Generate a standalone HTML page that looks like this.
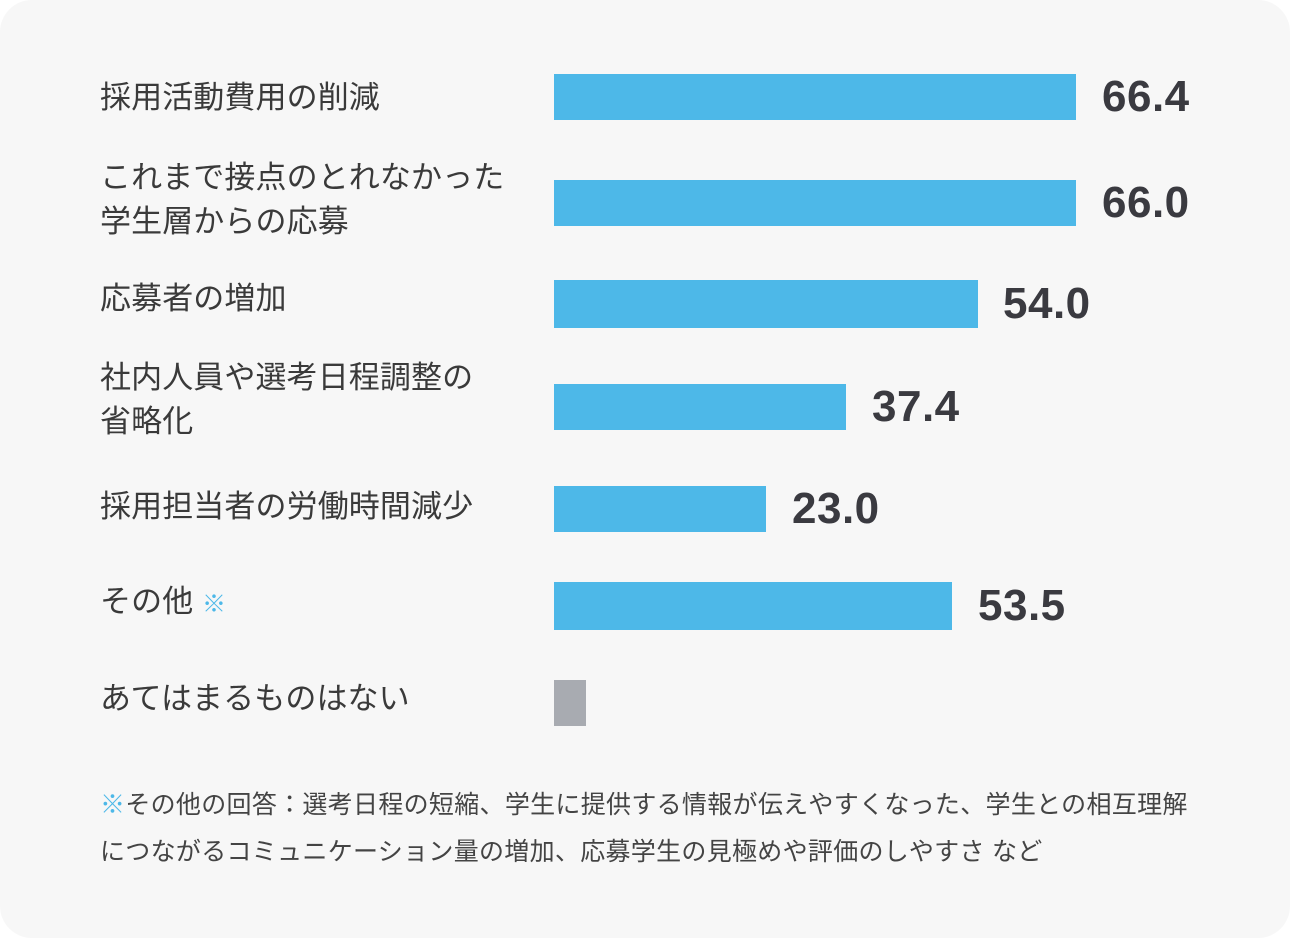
<!DOCTYPE html>
<html><head><meta charset="utf-8"><style>
html,body{margin:0;padding:0;background:#fff;}
body{width:1290px;height:938px;position:relative;overflow:hidden;font-family:"Liberation Sans","Noto Sans CJK JP",sans-serif;}
.card{position:absolute;left:0;top:0;width:1290px;height:938px;background:#f7f7f7;border-radius:32px;}
.lab{position:absolute;left:100px;font-size:31px;color:#3a3a3a;line-height:44px;white-space:nowrap;letter-spacing:0.1px;}
.bar{position:absolute;left:554px;background:#4db8e8;height:46px;}
.val{position:absolute;font-size:44px;font-weight:bold;color:#3a3a40;line-height:46px;letter-spacing:0.5px;}
.note{position:absolute;left:100px;font-size:25px;color:#444;line-height:48px;white-space:nowrap;letter-spacing:0.3px;}
.k{color:#4db8e8;}
</style></head><body><div class="card">
<div class="lab" style="top:76px">採用活動費用の削減</div>
<div class="bar" style="top:74px;width:522px"></div><div class="val" style="left:1102px;top:74px">66.4</div>

<div class="lab" style="top:156px">これまで接点のとれなかった<br>学生層からの応募</div>
<div class="bar" style="top:180px;width:522px"></div><div class="val" style="left:1102px;top:180px">66.0</div>

<div class="lab" style="top:277px">応募者の増加</div>
<div class="bar" style="top:280px;width:424px;height:48px"></div><div class="val" style="left:1003px;top:281px">54.0</div>

<div class="lab" style="top:356px">社内人員や選考日程調整の<br>省略化</div>
<div class="bar" style="top:384px;width:292px"></div><div class="val" style="left:872px;top:384px">37.4</div>

<div class="lab" style="top:485px">採用担当者の労働時間減少</div>
<div class="bar" style="top:486px;width:212px"></div><div class="val" style="left:792px;top:486px">23.0</div>

<div class="lab" style="top:580px">その他 <span class="k" style="font-size:24px">※</span></div>
<div class="bar" style="top:582px;width:398px;height:48px"></div><div class="val" style="left:978px;top:583px">53.5</div>

<div class="lab" style="top:677px">あてはまるものはない</div>
<div class="bar" style="top:680px;width:32px;background:#a8abb1"></div>

<div class="note" style="top:781px"><span class="k">※</span>その他の回答：選考日程の短縮、学生に提供する情報が伝えやすくなった、学生との相互理解</div>
<div class="note" style="top:828px">につながるコミュニケーション量の増加、応募学生の見極めや評価のしやすさ など</div>
</div></body></html>
